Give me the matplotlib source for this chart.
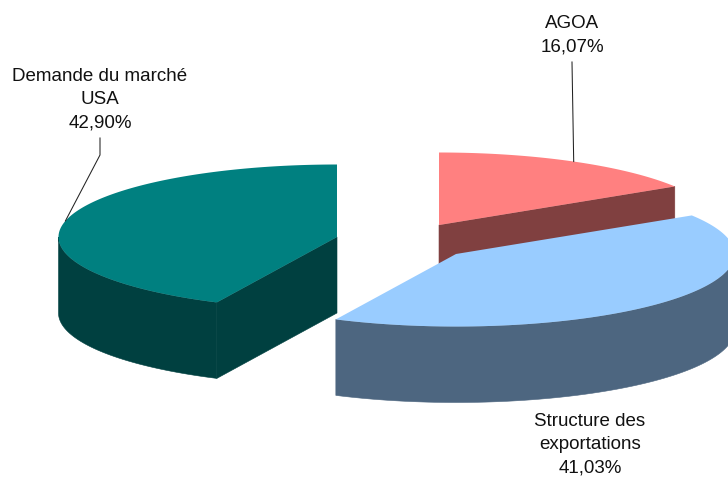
import numpy as np
import matplotlib.pyplot as plt
from matplotlib.patches import Polygon

labels = ["AGOA\n16,07%", "Structure des\nexportations\n41,03%", "Demande du marché\nUSA\n42,90%"]
shares = [16.07, 41.03, 42.90]
top_colors = ["#FF8080", "#99CCFF", "#008080"]
side_colors = ["#804040", "#4D6680", "#004040"]

# pie centres in pixels (exploded slices), ellipse radii, wall height
centers = [(439, 225), (456, 254), (337, 237)]
rx, ry, depth = 278.5, 72.5, 76

plt.rcParams["font.family"] = "Liberation Sans"
fig = plt.figure(figsize=(7.28, 4.79), dpi=100)
ax = fig.add_axes([0, 0, 1, 1])
ax.set_xlim(0, 728)
ax.set_ylim(479, 0)
ax.axis("off")


def rim(c, t):
    # angle measured clockwise from 12 o'clock
    return c[0] + rx * np.sin(t), c[1] - ry * np.cos(t)


edges = np.radians(np.concatenate([[0], np.cumsum(shares)]) * 3.6)
slices = [(i, edges[i], edges[i + 1]) for i in range(3)]

for i, a, b in [slices[0], slices[2], slices[1]]:
    c = centers[i]
    # cut faces: the end edge shows on the right half, the start edge on the left
    for edge, visible in [(a, a > np.pi), (b, b < np.pi)]:
        if visible:
            xe, ye = rim(c, edge)
            ax.add_patch(Polygon([c, (xe, ye), (xe, ye + depth), (c[0], c[1] + depth)],
                                 facecolor=side_colors[i], edgecolor=side_colors[i], lw=0.4))
    # outer wall, front half only
    lo, hi = max(a, np.pi / 2), min(b, 3 * np.pi / 2)
    if lo < hi:
        t = np.linspace(lo, hi, 100)
        x, y = rim(c, t)
        ax.add_patch(Polygon(np.r_[np.c_[x, y], np.c_[x, y + depth][::-1]],
                             facecolor=side_colors[i], edgecolor=side_colors[i], lw=0.4))
    # top face
    t = np.linspace(a, b, 200)
    x, y = rim(c, t)
    ax.add_patch(Polygon(np.r_[[c], np.c_[x, y]], color=top_colors[i], lw=0))

# leader lines from slice middles
mx, my = rim(centers[0], (edges[0] + edges[1]) / 2)
ax.plot([mx, 572], [my, 62], color="#222222", lw=0.75)
mx, my = rim(centers[2], (edges[2] + edges[3]) / 2)
ax.plot([mx, 100, 100], [my, 155, 138], color="#222222", lw=0.75)

text_style = dict(ha="center", va="center", fontsize=13.5, linespacing=1.47, color="#111111")
ax.text(572, 35.5, labels[0], **text_style)
ax.text(590, 444.5, labels[1], **text_style)
ax.text(100, 99.5, labels[2], **text_style)

fig.savefig("out.png", dpi=100)
